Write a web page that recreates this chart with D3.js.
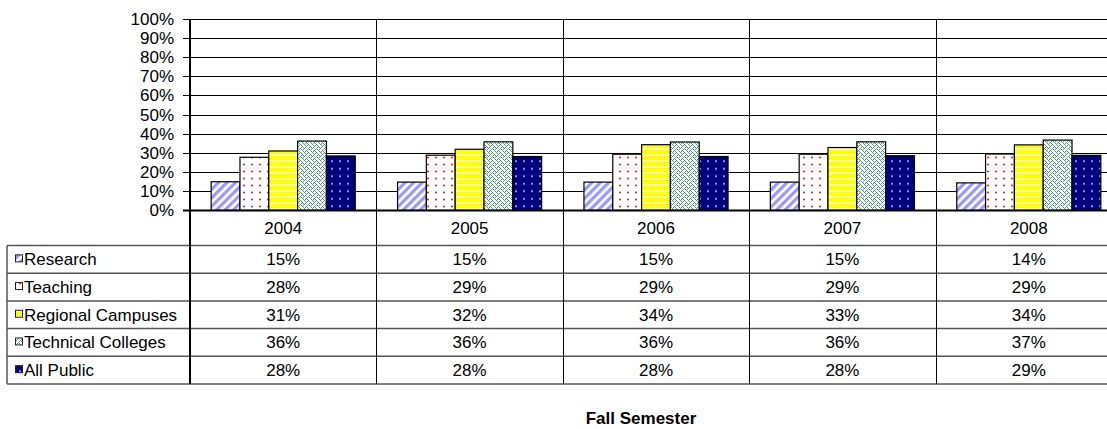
<!DOCTYPE html>
<html>
<head>
<meta charset="utf-8">
<script src="https://cdn.jsdelivr.net/npm/d3@7"></script>
<style>
  body { margin: 0; background: #fff; }
  text { font-family: "Liberation Sans", Arial, sans-serif; fill: #000; }
</style>
</head>
<body>
<div id="chart"></div>
<script>
// Chart values (percent).
const years = ['2004', '2005', '2006', '2007', '2008'];
const seriesNames = ['Research', 'Teaching', 'Regional Campuses', 'Technical Colleges', 'All Public'];
const research = [14.8, 14.6, 14.6, 14.6, 14.2];
const teaching = [27.6, 28.7, 29.2, 29.2, 29.3];
const regional = [30.9, 31.8, 34.2, 32.7, 34.1];
const technical = [36.1, 35.7, 35.6, 35.7, 36.6];
const allPublic = [28.3, 28.0, 28.0, 28.4, 28.6];
const yTicks = [0, 10, 20, 30, 40, 50, 60, 70, 80, 90, 100];

const seriesValues = [research, teaching, regional, technical, allPublic];
const patternIds = ['pResearch', 'pTeaching', 'pRegional', 'pTechnical', 'pAll'];

const width = 1107, height = 429;
const plot = { left: 190, right: 1122, top: 19, bottom: 210 };
const tableLeft = 7, headerBottom = 245.5, rowH = 27.7;
const fontSize = 17;

const svg = d3.select('#chart').append('svg')
  .attr('width', width)
  .attr('height', height);

// Fill patterns.
const defs = svg.append('defs');

// Research: light blue diagonal stripes.
const p1 = defs.append('pattern').attr('id', 'pResearch')
  .attr('patternUnits', 'userSpaceOnUse').attr('width', 6).attr('height', 6)
  .attr('patternTransform', 'rotate(45)');
p1.append('rect').attr('width', 6).attr('height', 6).attr('fill', '#fff');
p1.append('rect').attr('width', 3.2).attr('height', 6).attr('fill', '#9999ff');

// Teaching: red dots on white.
const p2 = defs.append('pattern').attr('id', 'pTeaching')
  .attr('patternUnits', 'userSpaceOnUse').attr('width', 8).attr('height', 7);
p2.append('rect').attr('width', 8).attr('height', 7).attr('fill', '#fff');
p2.append('circle').attr('cx', 4).attr('cy', 3.5).attr('r', 1.1).attr('fill', '#ff2020');

// Regional: yellow horizontal stripes.
const p3 = defs.append('pattern').attr('id', 'pRegional')
  .attr('patternUnits', 'userSpaceOnUse').attr('width', 6).attr('height', 6);
p3.append('rect').attr('width', 6).attr('height', 6).attr('fill', '#ffff00');
p3.append('rect').attr('y', 4).attr('width', 6).attr('height', 2).attr('fill', '#ffffb0');

// Technical: green weave.
const weaveRows = ['10001000', '01010100', '00100010', '01000101', '10001000', '00010101', '00100010', '01010001'];
const p4 = defs.append('pattern').attr('id', 'pTechnical')
  .attr('patternUnits', 'userSpaceOnUse').attr('width', 8).attr('height', 8);
p4.append('rect').attr('width', 8).attr('height', 8).attr('fill', '#fff');
weaveRows.forEach((row, r) => {
  row.split('').forEach((b, c) => {
    if (b === '1') p4.append('rect').attr('x', c).attr('y', r).attr('width', 1).attr('height', 1).attr('fill', '#4a9f76');
  });
});

// All Public: navy with white dots.
const p5 = defs.append('pattern').attr('id', 'pAll')
  .attr('patternUnits', 'userSpaceOnUse').attr('width', 8).attr('height', 7.5);
p5.append('rect').attr('width', 8).attr('height', 7.5).attr('fill', '#000080');
p5.append('circle').attr('cx', 4).attr('cy', 3.7).attr('r', 0.9).attr('fill', '#e0e0ff');

// Scales.
const x = d3.scaleBand().domain(years).range([plot.left, plot.right]).paddingInner(0).paddingOuter(0);
const xs = d3.scaleBand().domain(d3.range(seriesNames.length)).range([0, x.bandwidth()]).paddingInner(0).paddingOuter(0.734);
const y = d3.scaleLinear().domain([0, 100]).range([plot.bottom, plot.top]);

// Gridlines with tick marks.
svg.append('g')
  .selectAll('line')
  .data(yTicks)
  .join('line')
  .attr('x1', plot.left - 7)
  .attr('x2', width)
  .attr('y1', d => Math.round(y(d)) + 0.5)
  .attr('y2', d => Math.round(y(d)) + 0.5)
  .attr('stroke', '#000')
  .attr('stroke-width', d => d === 0 ? 2 : 1);

// Tick labels.
svg.append('g')
  .selectAll('text')
  .data(yTicks)
  .join('text')
  .attr('x', plot.left - 16)
  .attr('y', d => y(d) + 6)
  .attr('text-anchor', 'end')
  .attr('font-size', fontSize)
  .text(d => d + '%');

// Bars.
const bars = svg.append('g');
seriesValues.forEach((vals, si) => {
  bars.append('g')
    .selectAll('rect')
    .data(vals)
    .join('rect')
    .attr('x', (d, i) => x(years[i]) + xs(si))
    .attr('y', d => y(d))
    .attr('width', xs.bandwidth())
    .attr('height', d => y(0) - y(d))
    .attr('fill', 'url(#' + patternIds[si] + ')')
    .attr('stroke', '#000')
    .attr('stroke-width', 1.2);
});

// Data table.
const table = svg.append('g');
const tableBottom = headerBottom + rowH * seriesNames.length;

// Horizontal row lines.
const rowLines = d3.range(seriesNames.length + 1).map(i => headerBottom + i * rowH);
table.selectAll('.row-line')
  .data(rowLines)
  .join('line')
  .attr('class', 'row-line')
  .attr('x1', tableLeft)
  .attr('x2', width)
  .attr('y1', d => d)
  .attr('y2', d => d)
  .attr('stroke', '#555')
  .attr('stroke-width', 1.5);

// Left border of the legend column.
table.append('line')
  .attr('x1', tableLeft).attr('x2', tableLeft)
  .attr('y1', headerBottom).attr('y2', tableBottom)
  .attr('stroke', '#555').attr('stroke-width', 1.5);

// Vertical category dividers through plot and table.
table.selectAll('.col-line')
  .data(years.slice(1))
  .join('line')
  .attr('class', 'col-line')
  .attr('x1', d => Math.round(x(d)) + 0.5)
  .attr('x2', d => Math.round(x(d)) + 0.5)
  .attr('y1', plot.top)
  .attr('y2', tableBottom)
  .attr('stroke', '#000')
  .attr('stroke-width', 1);

// Value axis line.
table.append('line')
  .attr('x1', plot.left).attr('x2', plot.left)
  .attr('y1', plot.top).attr('y2', tableBottom)
  .attr('stroke', '#000').attr('stroke-width', 2);

// Header years.
table.selectAll('.year')
  .data(years)
  .join('text')
  .attr('class', 'year')
  .attr('x', d => x(d) + x.bandwidth() / 2)
  .attr('y', (plot.bottom + headerBottom) / 2 + 6)
  .attr('text-anchor', 'middle')
  .attr('font-size', fontSize)
  .text(d => d);

// Legend keys and names.
const fmt = d3.format('.0%');
seriesNames.forEach((name, si) => {
  const cy = headerBottom + si * rowH + rowH / 2;
  table.append('rect')
    .attr('x', 15.5).attr('y', cy - 4.5)
    .attr('width', 7).attr('height', 7)
    .attr('fill', 'url(#' + patternIds[si] + ')')
    .attr('stroke', '#222').attr('stroke-width', 1);
  table.append('text')
    .attr('x', 24)
    .attr('y', cy + 6)
    .attr('font-size', fontSize)
    .text(name);
  table.append('g')
    .selectAll('text')
    .data(seriesValues[si])
    .join('text')
    .attr('x', (d, i) => x(years[i]) + x.bandwidth() / 2)
    .attr('y', cy + 6)
    .attr('text-anchor', 'middle')
    .attr('font-size', fontSize)
    .text(d => fmt(d / 100));
});

// Axis title.
svg.append('text')
  .attr('x', 641)
  .attr('y', 424)
  .attr('text-anchor', 'middle')
  .attr('font-size', fontSize)
  .attr('font-weight', 'bold')
  .text('Fall Semester');
</script>
</body>
</html>
